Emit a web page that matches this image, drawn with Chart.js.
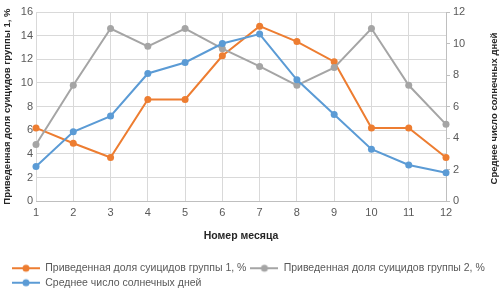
<!DOCTYPE html>
<html>
<head>
<meta charset="utf-8">
<script src="https://cdn.jsdelivr.net/npm/chart.js@4"></script>
<style>
  html, body { margin: 0; padding: 0; background: #fff; }
  #wrap { width: 502px; height: 300px; }
</style>
</head>
<body>
<div id="wrap"><canvas id="chart"></canvas></div>
<script>
// data
const months = ['1', '2', '3', '4', '5', '6', '7', '8', '9', '10', '11', '12'];
const share1 = [6.2, 4.9, 3.7, 8.6, 8.6, 12.3, 14.8, 13.5, 11.8, 6.2, 6.2, 3.7];
const share2 = [4.8, 9.8, 14.6, 13.1, 14.6, 12.9, 11.4, 9.8, 11.3, 14.6, 9.8, 6.5];
const sunny = [2.2, 4.4, 5.4, 8.1, 8.8, 10.0, 10.6, 7.7, 5.5, 3.3, 2.3, 1.8];
const leftAxis = { min: 0, max: 16, step: 2 };
const rightAxis = { min: 0, max: 12, step: 2 };

const names = [
  'Приведенная доля суицидов группы 1, %',
  'Приведенная доля суицидов группы 2, %',
  'Среднее число солнечных дней'
];
const colors = ['#ED7D31', '#A5A5A5', '#5B9BD5'];
const txt = '#595959';
const gridCol = '#d9d9d9';

// small line + marker picture for the legend
function legendMark(color) {
  const c = document.createElement('canvas');
  c.width = 28; c.height = 10;
  const g = c.getContext('2d');
  g.strokeStyle = color; g.lineWidth = 2;
  g.beginPath(); g.moveTo(0, 5); g.lineTo(28, 5); g.stroke();
  g.fillStyle = color;
  g.beginPath(); g.arc(14, 5, 3.5, 0, Math.PI * 2); g.fill();
  return c;
}
const marks = colors.map(legendMark);

// right axis title reads bottom-to-top like the original
const rightTitle = {
  id: 'rightTitle',
  afterDraw(chart) {
    const ctx = chart.ctx, a = chart.chartArea;
    ctx.save();
    ctx.translate(494, (a.top + a.bottom) / 2 + 2);
    ctx.rotate(-Math.PI / 2);
    ctx.font = 'bold 9.5px "Liberation Sans"';
    ctx.fillStyle = '#262626';
    ctx.textAlign = 'center';
    ctx.textBaseline = 'middle';
    ctx.fillText(names[2], 0, 0);
    ctx.restore();
  }
};

function ds(i, data, axis, order) {
  return {
    label: names[i],
    data: data,
    yAxisID: axis,
    borderColor: colors[i],
    backgroundColor: colors[i],
    borderWidth: 2,
    pointRadius: 3.5,
    pointHoverRadius: 4,
    pointBorderWidth: 0,
    tension: 0,
    order: order
  };
}

new Chart(document.getElementById('chart'), {
  type: 'line',
  data: {
    labels: months,
    datasets: [
      ds(0, share1, 'y', 2),
      ds(1, share2, 'y', 1),
      ds(2, sunny, 'y1', 0)
    ]
  },
  plugins: [rightTitle],
  options: {
    responsive: true,
    maintainAspectRatio: false,
    animation: false,
    layout: { padding: { left: 8, right: 0, top: 12, bottom: 2 } },
    font: { family: '"Liberation Sans"' },
    plugins: {
      tooltip: { enabled: false },
      legend: {
        position: 'bottom',
        align: 'start',
        labels: {
          usePointStyle: true,
          pointStyleWidth: 28,
          padding: 4,
          color: txt,
          font: { size: 10.5, family: '"Liberation Sans"', lineHeight: 1.15 },
          sort: (a, b) => a.datasetIndex - b.datasetIndex,
          generateLabels(chart) {
            const items = Chart.defaults.plugins.legend.labels.generateLabels(chart);
            items.forEach(it => { it.pointStyle = marks[it.datasetIndex]; });
            return items;
          }
        }
      }
    },
    scales: {
      x: {
        offset: false,
        grid: { color: gridCol, drawTicks: false },
        border: { color: '#bfbfbf' },
        ticks: { color: txt, font: { size: 11 }, padding: 5, maxRotation: 0 },
        title: {
          display: true, text: 'Номер месяца', color: '#262626',
          font: { size: 10.5, weight: 'bold', family: '"Liberation Sans"' },
          padding: { top: 5, bottom: 17 }
        }
      },
      y: {
        position: 'left',
        min: leftAxis.min, max: leftAxis.max,
        ticks: { stepSize: leftAxis.step, color: txt, font: { size: 11 }, padding: 3 },
        grid: { color: gridCol, drawTicks: false },
        border: { display: false },
        title: {
          display: true, text: names[0], color: '#262626',
          font: { size: 9.5, weight: 'bold', family: '"Liberation Sans"' },
          padding: { top: -6, bottom: 0 }
        },
        afterFit(s) { s.width = 28; }
      },
      y1: {
        position: 'right',
        min: rightAxis.min, max: rightAxis.max,
        ticks: { stepSize: rightAxis.step, color: txt, font: { size: 11 }, padding: 3 },
        grid: { drawOnChartArea: false, color: '#bfbfbf', tickLength: 4 },
        border: { color: '#bfbfbf' },
        afterFit(s) { s.width = 56; }
      }
    }
  }
});
</script>
</body>
</html>
